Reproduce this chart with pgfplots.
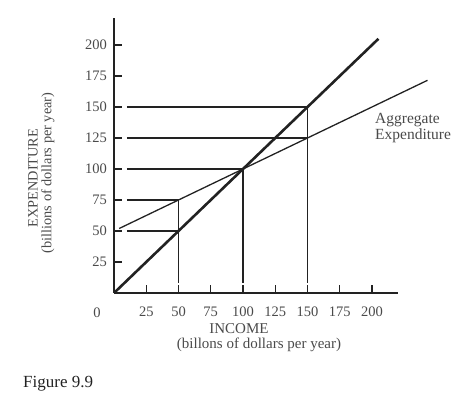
\documentclass[border=0pt]{standalone}
\usepackage{fontspec}
\setmainfont{Liberation Serif}
\usepackage{pgfplots}
\pgfplotsset{compat=1.18}
\definecolor{txt}{HTML}{4A4A4A}
\definecolor{ln}{HTML}{222222}
\begin{document}
\begin{tikzpicture}
\path[use as bounding box] (0pt,0pt) rectangle (464pt,-395pt);
\begin{axis}[
  at={(114pt,-293pt)}, anchor=south west,
  scale only axis, width=283.8pt, height=275.3pt,
  xmin=0, xmax=220, ymin=0, ymax=222,
  clip=false,
  axis x line=bottom, axis y line=left,
  axis line style={-, line width=1.6pt, color=ln},
  xtick={25,50,75,100,125,150,175,200},
  ytick={25,50,75,100,125,150,175,200},
  xticklabels={25,50,75,100,125,150,175,200},
  yticklabels={25,50,75,100,125,150,175,200},
  /pgf/number format/assume math mode=true,
  tick align=inside, major tick length=8pt,
  tick style={line width=1.3pt, color=ln},
  ticklabel style={font=\fontsize{14.5}{15}\selectfont, text=txt, inner sep=0pt},
  xticklabel style={anchor=base, yshift=-24pt},
  yticklabel style={anchor=east, xshift=-7pt},
]
% 45-degree line
\addplot[line width=2.6pt, color=ln] coordinates {(0,0) (205,205)};
% aggregate expenditure
\addplot[line width=1.3pt, color=ln] coordinates {(4,52) (243,171.5)};
% horizontal guides
\addplot[line width=1.2pt, color=ln] coordinates {(10,150) (150,150)};
\addplot[line width=1.2pt, color=ln] coordinates {(10,125) (150,125)};
\addplot[line width=1.2pt, color=ln] coordinates {(10,100) (100,100)};
\addplot[line width=1.2pt, color=ln] coordinates {(10,75) (50,75)};
\addplot[line width=1.2pt, color=ln] coordinates {(10,50) (50,50)};
% vertical guides
\addplot[line width=1.2pt, color=ln] coordinates {(50,75) (50,8)};
\addplot[line width=1.2pt, color=ln] coordinates {(100,100) (100,8)};
\addplot[line width=1.2pt, color=ln] coordinates {(150,150) (150,8)};
\end{axis}
\node[text=txt, font=\fontsize{14.5}{15}\selectfont, inner sep=0pt, anchor=base] at (97pt,-318pt) {0};
\node[text=txt, font=\fontsize{15}{15}\selectfont, inner sep=0pt, anchor=base] at (239pt,-334pt) {INCOME};
\node[text=txt, font=\fontsize{15}{15}\selectfont, inner sep=0pt, anchor=base] at (259pt,-349pt) {(billons of dollars per year)};
\node[text=txt, font=\fontsize{14.3}{15}\selectfont, inner sep=0pt, rotate=90] at (33pt,-178pt) {EXPENDITURE};
\node[text=txt, font=\fontsize{14.3}{15}\selectfont, inner sep=0pt, rotate=90] at (48pt,-173pt) {(billions of dollars per year)};
\node[text=txt, font=\fontsize{15.5}{13}\selectfont, inner sep=0pt, anchor=west, align=left] at (375pt,-128pt) {Aggregate\\Expenditure};
\node[text=ln, font=\fontsize{17}{18}\selectfont, inner sep=0pt, anchor=base west] at (23pt,-388pt) {Figure 9.9};
\end{tikzpicture}
\end{document}
